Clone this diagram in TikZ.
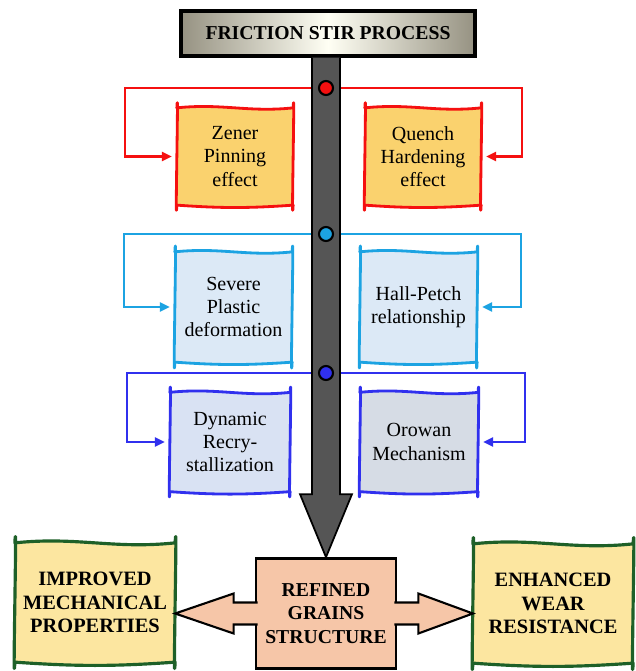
\documentclass[tikz,border=0pt]{standalone}
\usepackage{fontspec}
\setmainfont{Liberation Serif}
\usetikzlibrary{arrows.meta,calc,backgrounds}

\definecolor{fsred}{RGB}{245,16,16}
\definecolor{fsgold}{RGB}{250,210,110}
\definecolor{fscyan}{RGB}{28,163,226}
\definecolor{fsice}{RGB}{220,233,246}
\definecolor{fsblue}{RGB}{48,48,238}
\definecolor{fslav}{RGB}{217,226,243}
\definecolor{fsslate}{RGB}{214,220,229}
\definecolor{fsgreen}{RGB}{30,96,40}
\definecolor{fsyellow}{RGB}{252,230,160}
\definecolor{fspeach}{RGB}{246,198,168}
\definecolor{fsshaft}{RGB}{85,85,85}
\definecolor{fsedge}{RGB}{150,146,130}
\definecolor{fscream}{RGB}{255,255,244}

% hand-drawn outline round a node
\newcommand\wavyoutline[2]{%
  \draw[#2] (#1.north west) to[out=6,in=186] (#1.north east)
    to[out=87,in=-93] (#1.south east)
    to[out=184,in=-4] (#1.south west)
    to[out=-93,in=87] cycle;}

\begin{document}
\begin{tikzpicture}[x=0.5mm, y=-0.5mm,
    factor/.style={align=center, inner sep=0pt,
        font=\fontsize{28.5}{33}\selectfont},
    outcome/.style={align=center, inner sep=0pt, minimum width=80mm,
        minimum height=59.5mm, font=\bfseries\fontsize{29}{33}\selectfont},
    hub/.style={circle, draw=black, line width=3pt, minimum size=7mm,
        inner sep=0pt},
    link/.style={line width=3.5pt, -{Triangle[length=5mm,width=4.5mm]},
        shorten >=2.5mm},
    outline/.style={line width=4pt, line join=round},
    shaft/.style={draw=black, line width=2.5pt, fill=fsshaft, line join=miter},
    fatarrow/.style={draw=black, line width=3pt, fill=fspeach, line join=miter}
]
    \useasboundingbox (0,0) rectangle (635,671);

    % process and result
    \node[draw=black, line width=4.5pt, minimum width=147mm,
        minimum height=22.5mm, left color=fsedge, right color=fsedge,
        middle color=fscream, font=\bfseries\fontsize{28}{33}\selectfont]
        (fsp) at (328,33.5) {FRICTION STIR PROCESS};
    \node[draw=black, line width=3.8pt, fill=fspeach, minimum width=70mm,
        minimum height=55mm, align=center, inner sep=0pt,
        font=\bfseries\fontsize{28}{33}\selectfont]
        (refined) at (326,613.5) {REFINED\\GRAINS\\STRUCTURE};

    % mechanisms
    \node[factor, minimum width=58mm, minimum height=48.5mm] (zener) at (235,156.5) {Zener\\Pinning\\effect};
    \node[factor, minimum width=58mm, minimum height=48.5mm] (quench) at (423,156.5) {Quench\\Hardening\\effect};
    \node[factor, minimum width=58.5mm, minimum height=55mm] (severe) at (233.5,307) {Severe\\Plastic\\deformation};
    \node[factor, minimum width=58.5mm, minimum height=55mm] (hallpetch) at (418.5,307) {Hall-Petch\\relationship};
    \node[factor, minimum width=60mm, minimum height=49.5mm] (dynamic) at (230,442) {Dynamic\\Recry-\\stallization};
    \node[factor, minimum width=59mm, minimum height=49.5mm] (orowan) at (419,442) {Orowan\\Mechanism};

    % properties
    \node[outcome] (improved) at (95,602.5) {IMPROVED\\MECHANICAL\\PROPERTIES};
    \node[outcome] (enhanced) at (553,603.5) {ENHANCED\\WEAR\\RESISTANCE};

    % main shaft
    \coordinate (sL) at ($(refined.north)+(-14,-63)$);
    \coordinate (sR) at ($(refined.north)+(14,-63)$);
    \draw[shaft] (sL |- fsp.south) -- (sL) -- ++(-12,0) -- (refined.north)
        -- ($(sR)+(12,0)$) -- (sR) -- (sR |- fsp.south);

    \node[hub, fill=fsred] (hub1) at (326,88) {};
    \node[hub, fill=fscyan] (hub2) at (326,234) {};
    \node[hub, fill=fsblue] (hub3) at (326,373) {};

    % side arrows
    \draw[fatarrow] ($(refined.east)+(-3,-11)$) -- ++(24,0) -- ++(0,-9)
        -- (enhanced.west |- refined.east) -- ($(refined.east)+(21,20)$)
        -- ++(0,-9) -- ++(-24,0);
    \draw[fatarrow] ($(refined.west)+(3,-11)$) -- ++(-24,0) -- ++(0,-9)
        -- (improved.east |- refined.west) -- ($(refined.west)+(-21,20)$)
        -- ++(0,-9) -- ++(24,0);

    \begin{scope}[on background layer]
        \fill[white] (0,0) rectangle (635,671);
        \wavyoutline{zener}{outline, draw=fsred, fill=fsgold}
        \wavyoutline{quench}{outline, draw=fsred, fill=fsgold}
        \wavyoutline{severe}{outline, draw=fscyan, fill=fsice}
        \wavyoutline{hallpetch}{outline, draw=fscyan, fill=fsice}
        \wavyoutline{dynamic}{outline, draw=fsblue, fill=fslav}
        \wavyoutline{orowan}{outline, draw=fsblue, fill=fsslate}
        \wavyoutline{improved}{outline, line width=4.5pt, draw=fsgreen, fill=fsyellow}
        \wavyoutline{enhanced}{outline, line width=4.5pt, draw=fsgreen, fill=fsyellow}

        \draw[link, draw=fsred] (hub1) -| (125,0 |- zener) -- (zener);
        \draw[link, draw=fsred] (hub1) -| (522,0 |- quench) -- (quench);
        \draw[link, draw=fscyan] (hub2) -| (124,0 |- severe) -- (severe);
        \draw[link, draw=fscyan] (hub2) -| (521,0 |- hallpetch) -- (hallpetch);
        \draw[link, draw=fsblue] (hub3) -| (127,0 |- dynamic) -- (dynamic);
        \draw[link, draw=fsblue] (hub3) -| (525,0 |- orowan) -- (orowan);
    \end{scope}
\end{tikzpicture}
\end{document}
